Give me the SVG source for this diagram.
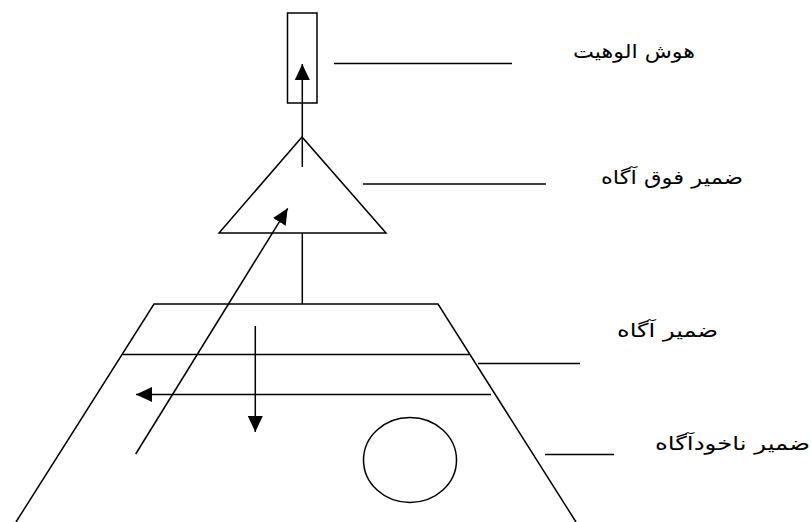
<svg xmlns="http://www.w3.org/2000/svg" width="811" height="522" viewBox="0 0 811 522">
<style>
.s{fill:none;stroke:#000;stroke-width:1.5}
.t{font-family:"DejaVu Sans","Noto Sans",sans-serif;font-size:19px;fill:#000;text-anchor:middle}
</style>
<defs>
<marker id="ah" markerUnits="userSpaceOnUse" markerWidth="16" markerHeight="16" refX="16" refY="7.5" orient="auto" viewBox="0 0 16 15">
<path d="M0,0 L16,7.5 L0,15 Z" fill="#000"/>
</marker>
</defs>
<rect width="811" height="522" fill="#fff"/>
<g id="godhead"><rect class="s" x="287.5" y="13" width="29.5" height="90"/></g>
<g id="superconscious"><polygon class="s" points="302,137 219,233 386,233"/></g>
<g id="conscious-unconscious">
<polyline class="s" points="16,522 154,304 438,304 576,522"/>
<line class="s" x1="123" y1="354.5" x2="469" y2="354.5"/>
<ellipse class="s" cx="410" cy="460" rx="46.5" ry="42.5"/>
</g>
<g id="connectors">
<line class="s" x1="302.3" y1="167" x2="302.3" y2="64" marker-end="url(#ah)"/>
<line class="s" x1="302.3" y1="233" x2="302.3" y2="304"/>
<line class="s" x1="135.7" y1="454" x2="287.7" y2="208.3" marker-end="url(#ah)"/>
<line class="s" x1="491" y1="394.5" x2="136" y2="394.5" marker-end="url(#ah)"/>
<line class="s" x1="255.3" y1="326" x2="255.3" y2="432" marker-end="url(#ah)"/>
<line class="s" x1="334" y1="63.5" x2="512" y2="63.5"/>
<line class="s" x1="363" y1="184" x2="546" y2="184"/>
<line class="s" x1="478" y1="363.5" x2="580" y2="363.5"/>
<line class="s" x1="545" y1="454.5" x2="614" y2="454.5"/>
</g>
<g id="labels">
<text class="t" x="634" y="58" textLength="122" lengthAdjust="spacingAndGlyphs">هوش الوهیت</text>
<text class="t" x="672" y="184" textLength="142" lengthAdjust="spacingAndGlyphs">ضمیر فوق آگاه</text>
<text class="t" x="667.5" y="337" textLength="101" lengthAdjust="spacingAndGlyphs">ضمیر آگاه</text>
<text class="t" x="732.5" y="450" textLength="155" lengthAdjust="spacingAndGlyphs">ضمیر ناخودآگاه</text>
</g>
</svg>
